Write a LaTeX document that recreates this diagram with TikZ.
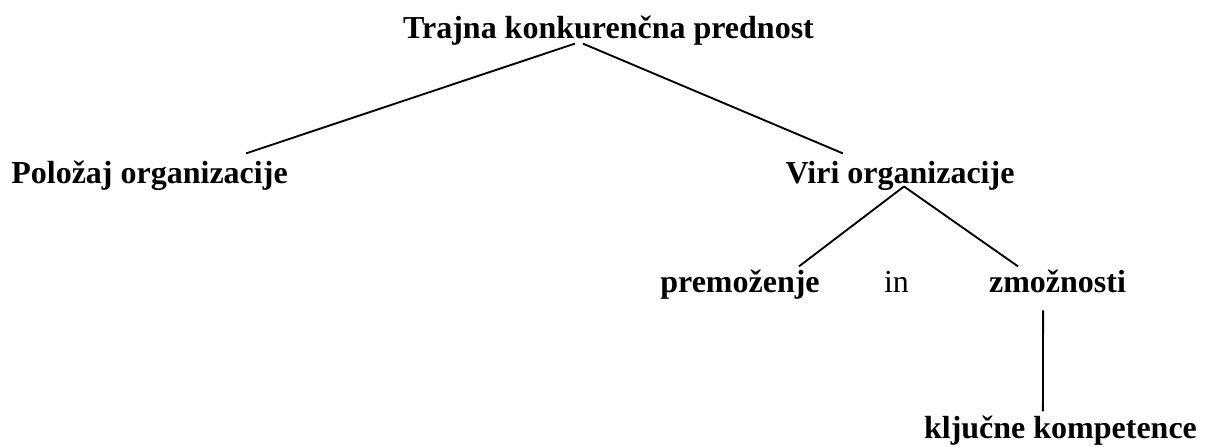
\documentclass[tikz,border=0pt]{standalone}
\usepackage{fontspec}
\setmainfont{Liberation Serif}
\begin{document}
\begin{tikzpicture}[x=0.375pt,y=-0.375pt,
	   lbl/.style={font=\fontsize{12pt}{14pt}\selectfont\bfseries,inner sep=0pt,text height=8pt,text depth=2.5pt,anchor=base},
	   plain/.style={lbl,font=\fontsize{12pt}{14pt}\selectfont},
	   link/.style={line width=0.7pt}]
	   \useasboundingbox (0,0) rectangle (1206,446);
	   \node [lbl] (tkp) at (608.5,38) {Trajna konkurenčna prednost};
	   \node [lbl] (polozaj) at (149.5,183) {Položaj organizacije};
	   \node [lbl] (viri) at (900,183) {Viri organizacije};
	   \node [lbl] (premozenje) at (740,292) {premoženje};
	   \node [plain] (in) at (896.5,292) {in};
	   \node [lbl] (zmoznosti) at (1057.5,292) {zmožnosti};
	   \node [lbl] (kompetence) at (1060.5,438) {ključne kompetence};
	   \draw[link] ([xshift=-12.6pt,yshift=0.6pt]tkp.south) -- ([xshift=36.2pt,yshift=2.9pt]polozaj.north);
	   \draw[link] ([xshift=-9.6pt,yshift=0.6pt]tkp.south) -- ([xshift=-21.4pt,yshift=2.9pt]viri.north);
	   \draw[link] ([xshift=1.5pt,yshift=1.4pt]viri.south) -- ([xshift=22.1pt,yshift=1.4pt]premozenje.north);
	   \draw[link] ([xshift=1.5pt,yshift=1.4pt]viri.south) -- ([xshift=-14.8pt,yshift=1.4pt]zmoznosti.north);
	   \draw[link] ([xshift=-5.4pt,yshift=-4.2pt]zmoznosti.south) -- ([xshift=-6.6pt,yshift=1.8pt]kompetence.north);
	\end{tikzpicture}
\end{document}
